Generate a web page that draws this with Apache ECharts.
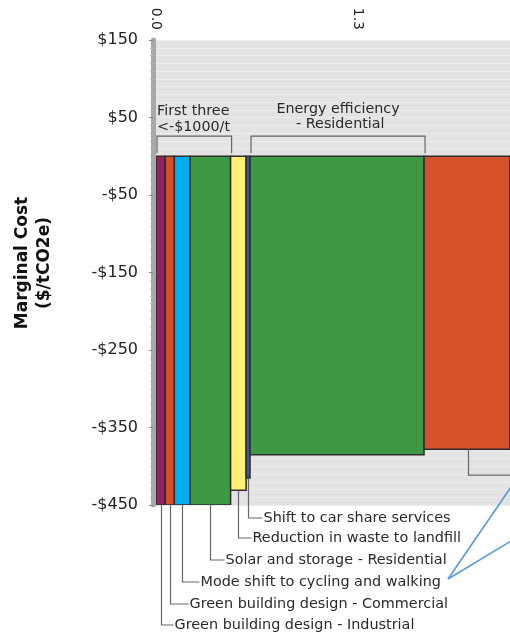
<!DOCTYPE html>
<html>
<head>
<meta charset="utf-8">
<script src="https://cdn.jsdelivr.net/npm/echarts@6/dist/echarts.min.js"></script>
<style>
  html, body { margin: 0; padding: 0; background: #fff; overflow: hidden; }
  #chart { width: 510px; height: 633px; }
</style>
</head>
<body>
<div id="chart"></div>
<script>
// Marginal abatement cost curve: each block's width is the abatement (MtCO2e),
// its height the marginal cost in $/tCO2e.
const measures = [
  'Green building design - Industrial',
  'Green building design - Commercial',
  'Mode shift to cycling and walking',
  'Solar and storage - Residential',
  'Reduction in waste to landfill',
  'Shift to car share services',
  'Energy efficiency - Residential',
  'Further measures'
];
const abatement = [0.06, 0.058, 0.102, 0.26, 0.10, 0.025, 1.12, 0.56];
const marginalCost = [-1250, -1150, -1050, -455, -431, -415, -385, -378];
const blockColors = ['#912262', '#d6522b', '#00aeef', '#3e9944', '#fff176', '#3c5a99', '#3e9944', '#d6522b'];

const costTicks = { min: -450, max: 150, step: 100 };
const abatementTicks = { min: 0, step: 1.3 };

// Measures that get a leader line and a label underneath the curve (bottom row last)
const labelledMeasures = [5, 4, 3, 2, 1, 0];
const labelRowY = [518, 538, 560, 582, 604, 625];
const labelGap = [15, 14, 15, 18, 19, 13];

const FONT = '"DejaVu Sans", Verdana, sans-serif';

// cumulative start/end of each block along the abatement axis
const blocks = [];
let acc = 0;
for (let i = 0; i < abatement.length; i++) {
  blocks.push([acc, acc + abatement[i], marginalCost[i], i]);
  acc += abatement[i];
}

const chart = echarts.init(document.getElementById('chart'), null, { renderer: 'canvas' });

const gridLeft = 156;
const gridTop = 40;
const gridBottom = 128;
const plotWidth = 510 - gridLeft;
const xMax = plotWidth / 155.4;

function renderBlock(params, api) {
  const x0 = api.value(0), x1 = api.value(1), v = api.value(2);
  const p0 = api.coord([x0, 0]);
  const p1 = api.coord([x1, v]);
  const cs = params.coordSys;
  const shape = echarts.graphic.clipRectByRect(
    { x: p0[0], y: p0[1], width: p1[0] - p0[0], height: p1[1] - p0[1] },
    { x: cs.x, y: cs.y, width: cs.width, height: cs.height }
  );
  if (!shape) return null;
  return {
    type: 'rect',
    shape: shape,
    style: { fill: blockColors[api.value(3)], stroke: '#2e2e2e', lineWidth: 1.5 }
  };
}

chart.setOption({
  animation: false,
  grid: {
    left: gridLeft, right: 0, top: gridTop, bottom: gridBottom,
    show: true, backgroundColor: '#e3e3e3', borderWidth: 0
  },
  xAxis: {
    type: 'value',
    position: 'top',
    min: abatementTicks.min,
    max: xMax,
    interval: abatementTicks.step,
    axisLine: { show: false },
    axisTick: { show: false },
    splitLine: { show: false },
    axisLabel: {
      rotate: -90,
      margin: 10,
      fontFamily: FONT,
      fontSize: 14,
      color: '#222',
      showMaxLabel: false,
      formatter: v => v.toFixed(1)
    }
  },
  yAxis: [{
    // labels and background stripes
    type: 'value',
    min: costTicks.min,
    max: costTicks.max,
    interval: costTicks.step,
    offset: 3,
    axisLine: { show: false },
    axisTick: { show: false },
    splitLine: { show: true, lineStyle: { color: '#ececec', width: 1 } },
    minorTick: { show: false, splitNumber: 10 },
    minorSplitLine: { show: true, lineStyle: { color: '#ececec', width: 1 } },
    axisLabel: {
      margin: 15,
      fontFamily: FONT,
      fontSize: 16,
      color: '#222',
      formatter: v => (v < 0 ? '-$' + Math.abs(v) : '$' + v)
    }
  }, {
    // the grey axis band, drawn above the blocks
    type: 'value',
    position: 'left',
    min: costTicks.min,
    max: costTicks.max,
    interval: costTicks.step,
    offset: 3,
    z: 6,
    axisLine: { show: true, lineStyle: { color: '#a8a8a8', width: 5 } },
    axisTick: { show: true, length: 4, lineStyle: { color: '#888' } },
    minorTick: { show: true, splitNumber: 10, length: 3, lineStyle: { color: '#bbb' } },
    splitLine: { show: false },
    minorSplitLine: { show: false },
    axisLabel: { show: false }
  }],
  series: [{
    type: 'custom',
    renderItem: renderBlock,
    encode: { x: [0, 1], y: 2 },
    data: blocks,
    clip: true,
    z: 5
  }]
});

// Annotations positioned from the axes' own scales
function px(x, y) { return chart.convertToPixel({ xAxisIndex: 0, yAxisIndex: 0 }, [x, y]); }

const graphics = [];
const leaderColor = '#666';
const textColor = '#2a2a2a';

// axis title
graphics.push({
  type: 'text', x: 34, y: 263, rotation: Math.PI / 2,
  style: {
    text: 'Marginal Cost\n($/tCO2e)', align: 'center', verticalAlign: 'middle',
    font: 'bold 17px ' + FONT, fill: '#111', lineHeight: 22
  }
});

// bracket helper over a span of the abatement axis
function bracket(x0, x1) {
  const a = px(x0, 26), b = px(x1, 4);
  graphics.push({
    type: 'polyline', z: 10,
    shape: { points: [[a[0] + 1, b[1]], [a[0] + 1, a[1]], [b[0] + 1, a[1]], [b[0] + 1, b[1]]] },
    style: { stroke: leaderColor, lineWidth: 1.2, fill: null }
  });
  return [a, b];
}

const firstBr = bracket(blocks[0][0], blocks[3][1]);
graphics.push({
  type: 'text', z: 10, x: firstBr[0][0] + 1, y: 103,
  style: { text: 'First three\n<-$1000/t', font: '14.3px ' + FONT, fill: textColor, lineHeight: 16, align: 'left', verticalAlign: 'top' }
});

const eeBr = bracket(blocks[6][0], blocks[6][1]);
graphics.push({
  type: 'text', z: 10, x: (eeBr[0][0] + eeBr[1][0]) / 2 + 1, y: 102,
  style: { text: 'Energy efficiency\n - Residential', font: '14.3px ' + FONT, fill: textColor, lineHeight: 15, align: 'center', verticalAlign: 'top' }
});

// leader lines and labels below the curve
labelledMeasures.forEach((idx, row) => {
  const b = blocks[idx];
  const mid = (b[0] + b[1]) / 2;
  const bottom = px(mid, Math.max(b[2], costTicks.min));
  const x = Math.round(bottom[0]) + 0.5;
  const y = labelRowY[row];
  const tx = x + labelGap[row];
  graphics.push({
    type: 'polyline', z: 10,
    shape: { points: [[x, bottom[1]], [x, y], [tx - 1, y]] },
    style: { stroke: leaderColor, lineWidth: 1.2, fill: null }
  });
  graphics.push({
    type: 'text', z: 10, x: tx, y: y,
    style: { text: measures[idx], font: '14.4px ' + FONT, fill: textColor, align: 'left', verticalAlign: 'middle' }
  });
});

// leader for the last block, running off to the right
{
  const b = blocks[7];
  const p = px((b[0] + b[1]) / 2, b[2]);
  const x = Math.round(p[0]) + 0.5;
  graphics.push({
    type: 'polyline', z: 10,
    shape: { points: [[x, p[1]], [x, p[1] + 26], [520, p[1] + 26]] },
    style: { stroke: leaderColor, lineWidth: 1.2, fill: null }
  });
}

// blue pointer lines from the cycling/walking label
graphics.push({
  type: 'line', z: 11,
  shape: { x1: 448, y1: 579, x2: 511, y2: 487 },
  style: { stroke: '#5b9bd5', lineWidth: 1.6 }
});
graphics.push({
  type: 'line', z: 11,
  shape: { x1: 448, y1: 579, x2: 511, y2: 541 },
  style: { stroke: '#5b9bd5', lineWidth: 1.6 }
});

chart.setOption({ graphic: graphics });
</script>
</body>
</html>
